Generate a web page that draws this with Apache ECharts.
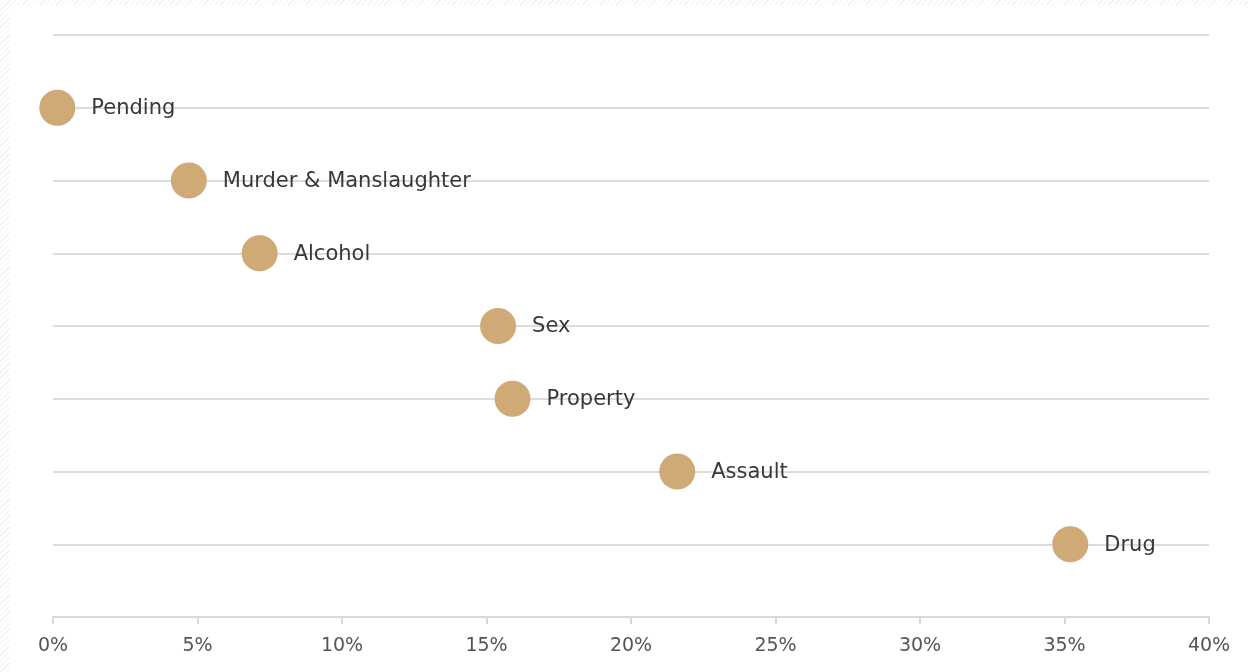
<!DOCTYPE html>
<html>
<head>
<meta charset="utf-8">
<script src="https://cdn.jsdelivr.net/npm/echarts@6/dist/echarts.min.js"></script>
<style>
  html, body { margin: 0; padding: 0; width: 1248px; height: 672px; overflow: hidden; }
  body {
    background: repeating-linear-gradient(135deg, #ffffff 0px, #ffffff 3px, #f1f1f1 3px, #f1f1f1 4px);
    position: relative;
  }
  #chart { position: absolute; left: 10px; top: 5px; width: 1238px; height: 667px; background: #ffffff; }
</style>
</head>
<body>
<div id="chart"></div>
<script>
// Share of offences by category (percent)
const categories = ['Pending', 'Murder & Manslaughter', 'Alcohol', 'Sex', 'Property', 'Assault', 'Drug'];
const shares = [0.15, 4.7, 7.15, 15.4, 15.9, 21.6, 35.2];
const xTicks = [0, 5, 10, 15, 20, 25, 30, 35, 40];

// Each category sits on its own row, top to bottom
const rows = categories.map((name, i) => [shares[i], categories.length - i, name]);

const chart = echarts.init(document.getElementById('chart'), null, { renderer: 'canvas' });
const FONT = 'DejaVu Sans';

chart.setOption({
  animation: false,
  grid: { left: 43, right: 39, top: 30, bottom: 55, containLabel: false },
  xAxis: {
    type: 'value',
    min: xTicks[0],
    max: xTicks[xTicks.length - 1],
    interval: 5,
    axisLine: { show: true, lineStyle: { color: '#d9d9d9', width: 2 } },
    axisTick: { show: true, length: 7, lineStyle: { color: '#d9d9d9', width: 2 } },
    splitLine: { show: false },
    axisLabel: {
      formatter: v => v + '%',
      color: '#555555',
      fontSize: 19,
      fontFamily: FONT,
      margin: 20
    }
  },
  yAxis: {
    type: 'value',
    min: 0,
    max: categories.length + 1,
    interval: 1,
    axisLine: { show: false },
    axisTick: { show: false },
    axisLabel: { show: false },
    splitLine: { show: true, lineStyle: { color: '#dcdcdc', width: 2 } }
  },
  series: [{
    type: 'scatter',
    data: rows,
    symbol: 'circle',
    symbolSize: 36,
    itemStyle: { color: '#CFAA76', opacity: 1 },
    label: {
      show: true,
      position: 'right',
      distance: 16,
      offset: [0, 1],
      formatter: p => p.data[2],
      color: '#383838',
      fontSize: 21,
      fontFamily: FONT
    },
    emphasis: { disabled: true }
  }]
});
</script>
</body>
</html>
